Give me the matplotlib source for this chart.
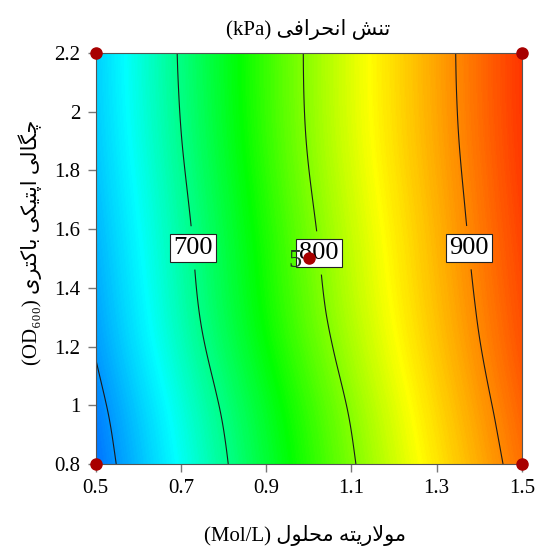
import numpy as np
import matplotlib
matplotlib.use("Agg")
import matplotlib.pyplot as plt
import matplotlib.tri as mtri
from matplotlib.colors import LinearSegmentedColormap
from matplotlib.ticker import FormatStrFormatter

plt.rcParams["font.family"] = ["Liberation Serif", "DejaVu Sans"]

# response surface (deviator stress, kPa)
molarity = [0.5, 0.75, 1.0, 1.25, 1.5]
od600 = [0.8, 1.0, 1.25, 1.5, 1.85, 2.2]
stress = [
    [581, 678, 765, 842, 912],
    [590, 686, 772, 849, 919],
    [605, 700, 785, 859, 927],
    [614, 707, 792, 865, 932],
    [625, 716, 801, 872, 938],
    [630, 721, 804, 875, 940],
]
line_levels = [600, 700, 800, 900]
label_spots = [(0.729, 1.536), (1.026, 1.519), (1.371, 1.536)]

design_x = [0.5, 0.5, 1.5, 1.5, 1.0]
design_y = [0.8, 2.2, 0.8, 2.2, 1.5]
center_reps = "5"

title_fa = "تنش انحرافی"
xlabel_fa = "مولاریته محلول"
ylabel_fa = "چگالی اپتیکی باکتری"

# minimal Persian shaping (matplotlib has no complex text layout)
FORMS = {
    "ا": ("\ufe8d", "\ufe8e", None, None),
    "ب": ("\ufe8f", "\ufe90", "\ufe91", "\ufe92"),
    "پ": ("\ufb56", "\ufb57", "\ufb58", "\ufb59"),
    "ت": ("\ufe95", "\ufe96", "\ufe97", "\ufe98"),
    "ح": ("\ufea1", "\ufea2", "\ufea3", "\ufea4"),
    "ر": ("\ufead", "\ufeae", None, None),
    "ش": ("\ufeb5", "\ufeb6", "\ufeb7", "\ufeb8"),
    "ف": ("\ufed1", "\ufed2", "\ufed3", "\ufed4"),
    "ک": ("\ufb8e", "\ufb8f", "\ufb90", "\ufb91"),
    "گ": ("\ufb92", "\ufb93", "\ufb94", "\ufb95"),
    "ل": ("\ufedd", "\ufede", "\ufedf", "\ufee0"),
    "م": ("\ufee1", "\ufee2", "\ufee3", "\ufee4"),
    "ن": ("\ufee5", "\ufee6", "\ufee7", "\ufee8"),
    "ه": ("\ufee9", "\ufeea", "\ufeeb", "\ufeec"),
    "و": ("\ufeed", "\ufeee", None, None),
    "ی": ("\ufbfc", "\ufbfd", "\ufbfe", "\ufbff"),
    "چ": ("\ufb7a", "\ufb7b", "\ufb7c", "\ufb7d"),
}


def dual(c):
    return c in FORMS and FORMS[c][2] is not None


def fa(s):
    out = []
    i = 0
    while i < len(s):
        c = s[i]
        if c not in FORMS:
            out.append(c)
            i += 1
            continue
        prev_join = i > 0 and dual(s[i - 1])
        if c == "ل" and i + 1 < len(s) and s[i + 1] == "ا":
            out.append("\ufefc" if prev_join else "\ufefb")
            i += 2
            continue
        next_join = dual(c) and i + 1 < len(s) and s[i + 1] in FORMS
        iso, fin, ini, med = FORMS[c]
        if prev_join and next_join:
            out.append(med)
        elif prev_join:
            out.append(fin)
        elif next_join:
            out.append(ini)
        else:
            out.append(iso)
        i += 1
    return "".join(reversed(out))


cmap = LinearSegmentedColormap.from_list(
    "de",
    [(0.0, "#0040ff"), (0.245, "#00ffff"), (0.48, "#00ff00"),
     (0.71, "#ffff00"), (1.0, "#ff0000")],
)
vmin, vmax = 555, 965

X, Y = np.meshgrid(molarity, od600)
Z = np.array(stress, dtype=float)

# let matplotlib smooth the coarse table (cubic refinement of the triangulation)
triang = mtri.Triangulation(X.ravel(), Y.ravel())
tri_fine, z_fine = mtri.UniformTriRefiner(triang).refine_field(Z.ravel(), subdiv=4)

fig = plt.figure(figsize=(5.38, 5.57), dpi=100)
ax = fig.add_axes([0.178, 0.167, 0.792, 0.738])

ax.tricontourf(tri_fine, z_fine, levels=np.linspace(vmin, vmax, 400), cmap=cmap,
               vmin=vmin, vmax=vmax, antialiased=False)
cs = ax.tricontour(tri_fine, z_fine, levels=line_levels, colors="#1a1a1a",
                   linewidths=0.8)
labels = ax.clabel(cs, manual=label_spots, inline=True, inline_spacing=2,
                   fmt="%d", fontsize=19, colors="black")
for t in labels:
    t.set_rotation(0)
    t.set_bbox(dict(boxstyle="square,pad=0.12", fc="white", ec="#222222", lw=0.8))
    t.set_zorder(4)

ax.text(design_x[-1] - 0.016, design_y[-1] - 0.01, center_reps, fontsize=19,
        color="#1f3a1f", ha="right", va="center", zorder=5)
ax.plot(design_x, design_y, "o", color="#a80000", ms=8, clip_on=False, zorder=6)

ax.set_xlim(0.5, 1.5)
ax.set_ylim(0.8, 2.2)
ax.set_xticks(np.arange(0.5, 1.51, 0.2))
ax.set_yticks(np.arange(0.8, 2.21, 0.2))
ax.xaxis.set_major_formatter(FormatStrFormatter("%g"))
ax.yaxis.set_major_formatter(FormatStrFormatter("%g"))
ax.tick_params(direction="out", length=6, width=1, color="#777777",
               labelsize=15, pad=5)
for sp in ax.spines.values():
    sp.set_color("#555555")
    sp.set_linewidth(0.8)

ax.text(0.498, 1.056, "(kPa) " + fa(title_fa), transform=ax.transAxes,
        ha="center", va="center", fontsize=15)
ax.text(0.49, -0.173, "(Mol/L) " + fa(xlabel_fa), transform=ax.transAxes,
        ha="center", va="center", fontsize=15)
ax.text(-0.155, 0.54, "(OD\u2086\u2080\u2080) " + fa(ylabel_fa), transform=ax.transAxes,
        ha="center", va="center", rotation=90, fontsize=15)

fig.savefig("out.png", dpi=100)
